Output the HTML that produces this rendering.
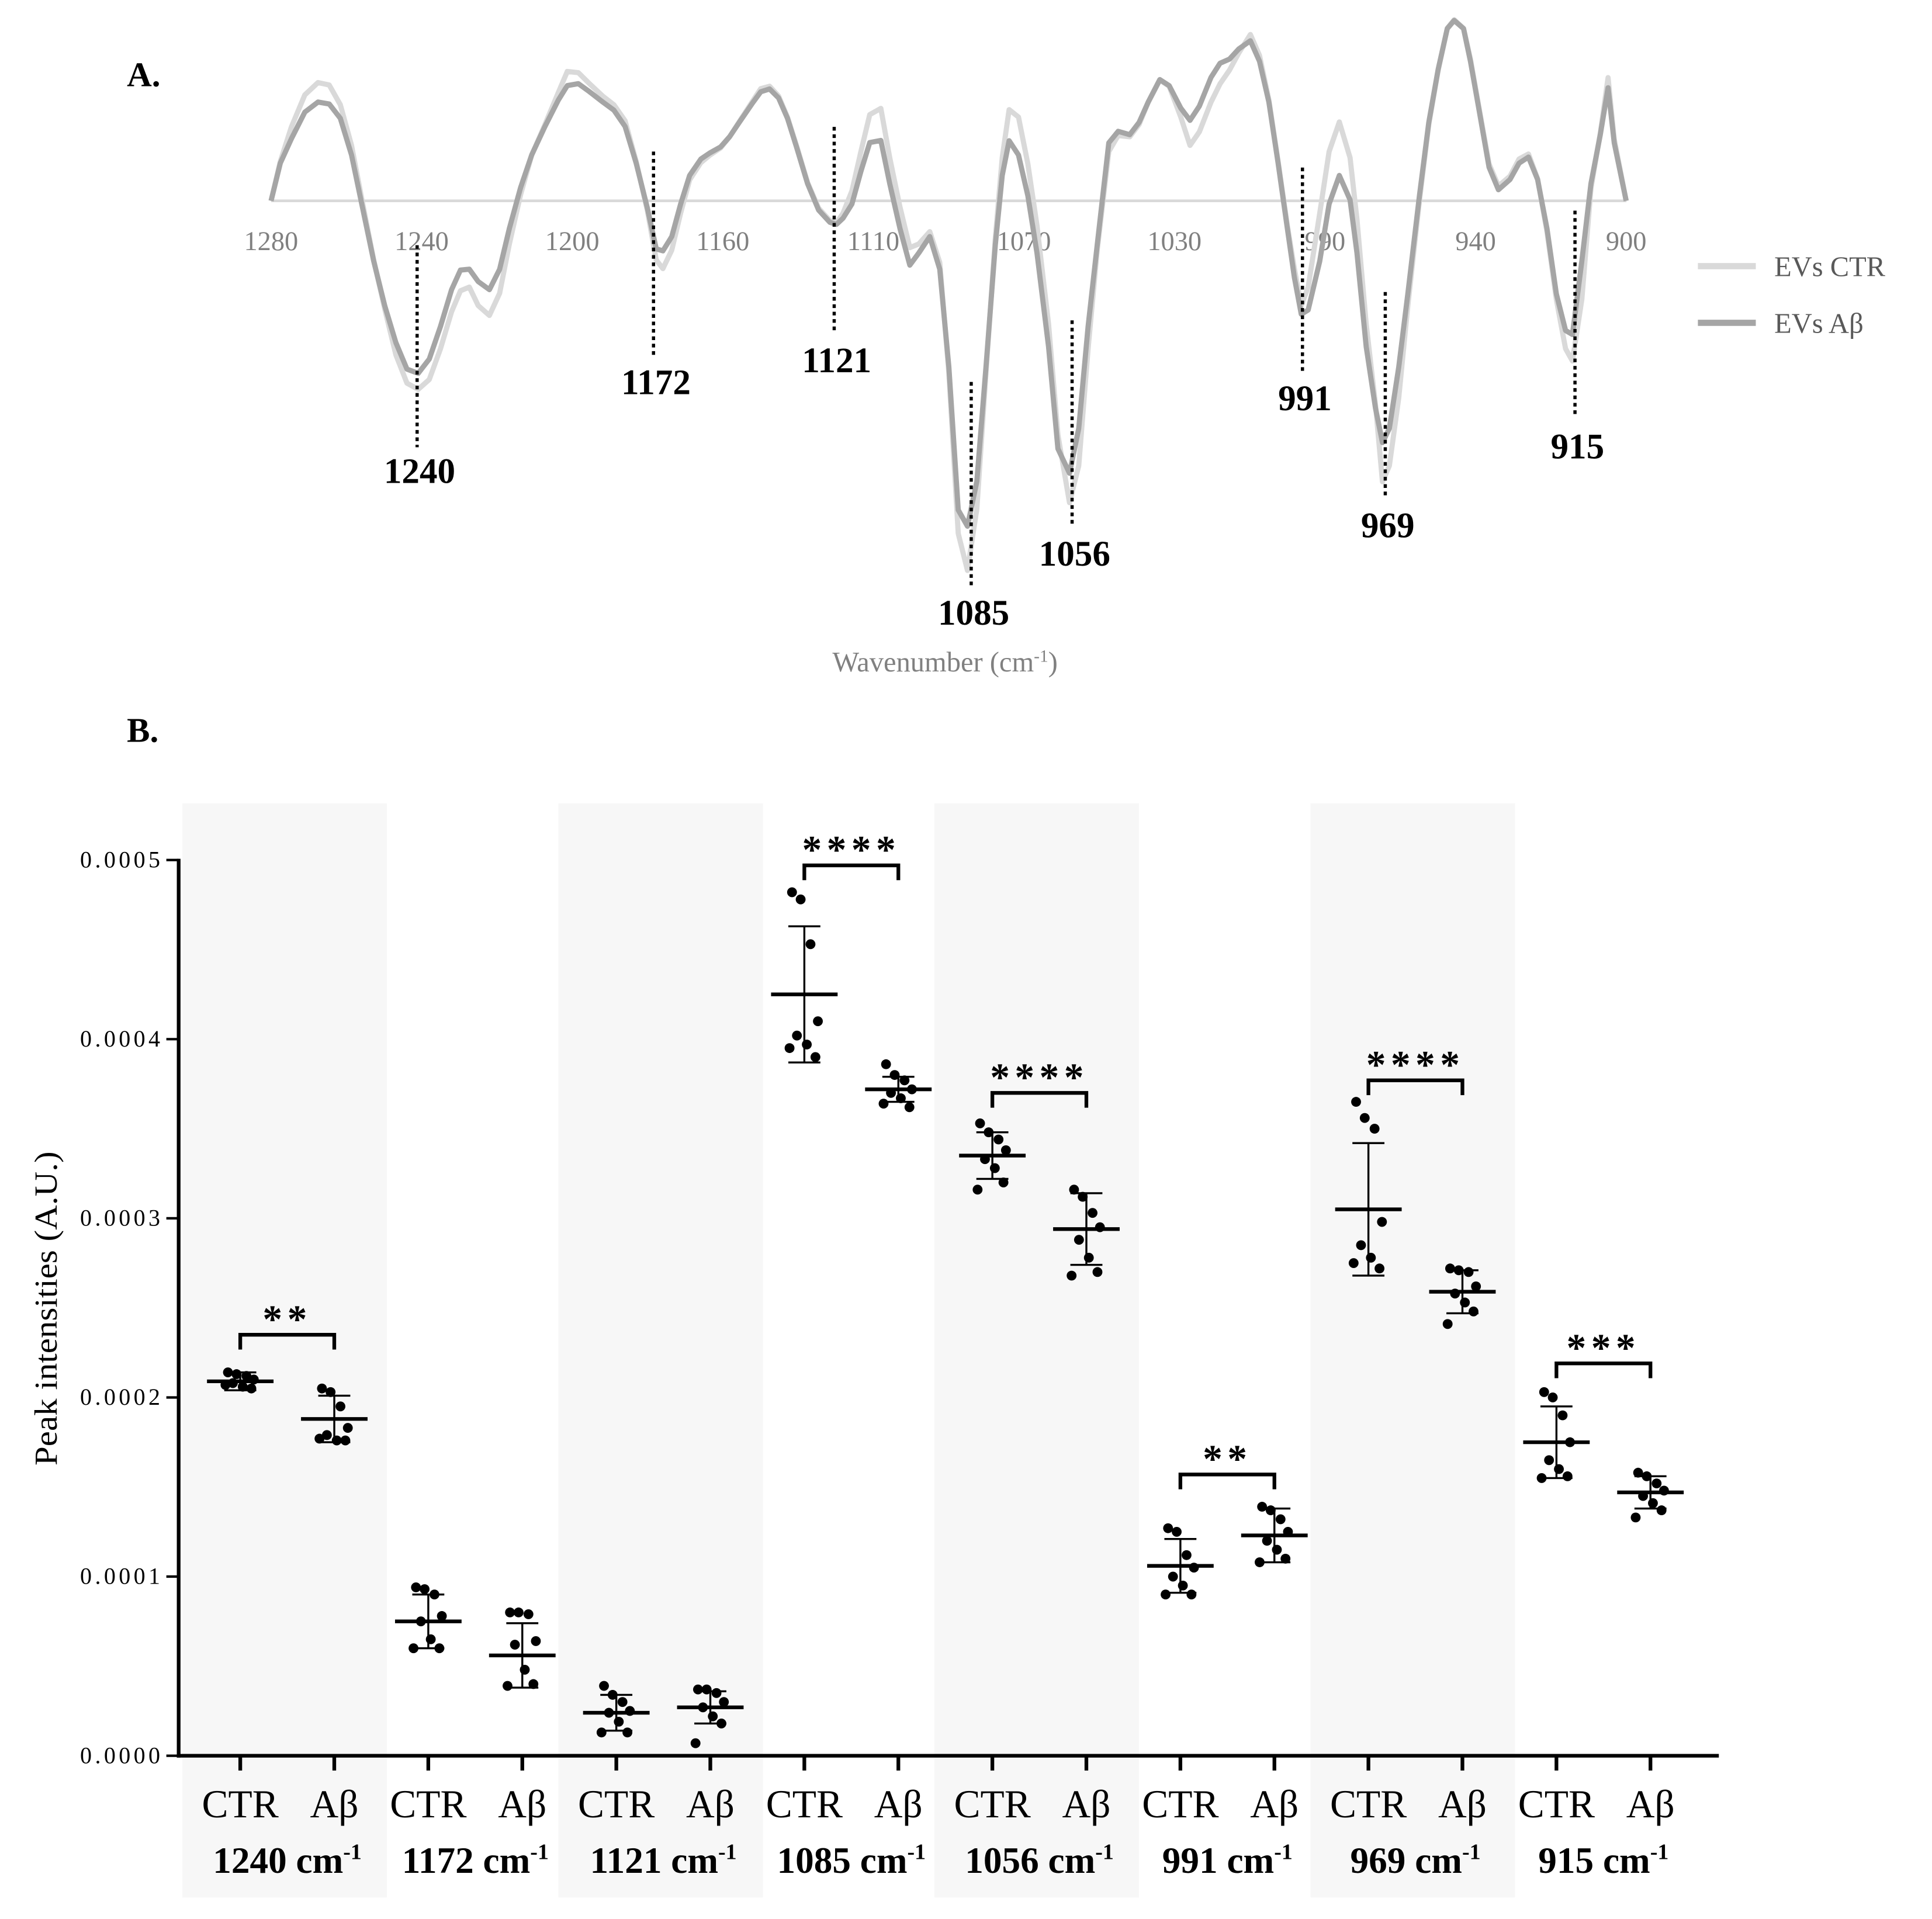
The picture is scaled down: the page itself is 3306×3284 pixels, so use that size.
<!DOCTYPE html>
<html><head><meta charset="utf-8"><style>
html,body{margin:0;padding:0;background:#fff}
svg{display:block}
text{font-family:"Liberation Serif",serif}
</style></head><body>
<svg id="fig" xmlns="http://www.w3.org/2000/svg" width="3306" height="3284" viewBox="0 0 1568 1557.5" preserveAspectRatio="none">
<rect x="0" y="0" width="1568" height="1558" fill="#fff"/>
<text x="103" y="70" font-size="28" font-weight="bold">A.</text>
<text x="103" y="602" font-size="28" font-weight="bold">B.</text>
<g id="pa"></g>
<g id="pb"></g>
</svg>
<script>
// ---------- Panel A data ----------
const specTickLabels = ["1280","1240","1200","1160","1110","1070","1030","990","940","900"];
const specIndex = [0,0.061,0.135,0.224,0.312,0.386,0.460,0.534,0.608,0.682,0.755,0.829,0.903,0.977,1.051,1.125,1.199,1.258,1.317,1.376,1.450,1.518,1.583,1.657,1.731,1.819,1.908,1.967,2.041,2.115,2.203,2.277,2.351,2.425,2.499,2.558,2.602,2.661,2.720,2.780,2.854,2.913,2.986,3.046,3.119,3.193,3.252,3.311,3.371,3.430,3.489,3.563,3.637,3.711,3.755,3.799,3.858,3.917,3.976,4.050,4.109,4.177,4.242,4.302,4.375,
4.441,4.502,4.564,4.625,4.687,4.748,4.810,4.856,4.902,4.964,5.026,5.087,5.164,5.226,5.303,5.364,5.426,5.487,5.564,5.626,5.703,5.765,5.826,5.903,5.965,6.042,6.103,6.165,6.242,6.303,6.365,6.427,6.504,6.565,6.627,6.688,6.750,6.796,6.842,6.888,6.965,7.027,7.095,7.166,7.212,7.273,7.335,7.381,7.427,7.489,7.550,7.627,7.689,7.751,7.812,7.858,7.920,7.966,8.028,8.089,8.151,8.228,8.289,8.351,8.412,8.474,8.536,8.597,8.643,8.705,8.766,8.828,8.880,8.921,9.0];
const specCTR = [0,32,60,86,96,94,78,45,-2,-48,-88,-125,-148,-153,-145,-120,-90,-73,-70,-85,-93,-75,-35,5,37,62,88,105,104,95,85,78,65,32,-8,-48,-55,-40,-10,17,31,37,43,52,66,80,91,93,85,68,45,15,-6,-16,-18,-10,8,40,70,75,35,-5,-38,-35,-25,
-50,-140,-270,-300,-250,-140,-30,35,74,68,30,-20,-100,-190,-245,-215,-120,-40,40,53,52,62,80,98,93,68,45,56,80,95,106,120,135,118,82,32,-20,-55,-85,-70,-10,40,64,35,-15,-100,-165,-228,-215,-160,-85,0,62,106,140,147,140,115,72,30,12,20,34,38,18,-25,-80,-120,-130,-80,10,55,100,50,0];
const specAB = [0,30.6,50.4,72.0,80.2,78.6,67.0,37.2,-5.9,-48.9,-85.3,-115.1,-136.6,-140.0,-128.4,-101.9,-72.1,-56.2,-55.5,-65.5,-72.1,-55.5,-22.4,10.7,37.2,60.4,81.9,93.5,95.1,88.5,80.2,73.6,60.4,30.6,-5.9,-39.0,-40.6,-29.0,-2.6,20.6,33.9,38.8,43.8,52.1,65.3,78.6,88.5,90.8,83.5,67.0,43.8,14.0,-7.5,-17.4,-19.1,-14.1,-2.6,23.9,47.3,49.0,14.0,-22.4,-52.2,-42.3,-29.0,
-55.5,-135.0,-250.9,-264.1,-227.7,-135.0,-35.7,20.6,48.8,37.2,4.1,-42.3,-118.4,-201.2,-221.1,-184.7,-101.9,-35.7,47.1,56.4,53.7,63.7,80.2,98.4,93.5,75.3,65.3,76.9,100.1,111.7,115.0,123.3,129.9,113.3,80.2,30.6,-22.4,-62.1,-92.0,-88.6,-48.9,-2.6,20.6,0.8,-42.3,-118.4,-168.1,-196.2,-184.7,-135.0,-75.4,4.1,63.7,106.7,139.8,146.4,139.8,113.3,70.3,27.3,9.0,17.3,30.6,35.5,17.3,-22.4,-75.4,-105.2,-108.5,-48.9,14.0,53.7,91.8,47.1,0];
const peakLabels = ["1240","1172","1121","1085","1056","991","969","915"];
const peakIndex = [0.97,2.54,3.74,4.65,5.32,6.85,7.40,8.66];
const peakLineTop = [-36,40,60,-147,-97,27,-74,-8];
const peakLineBottom = [-200,-128,-107,-314,-264,-140,-241,-176];
const peakLabelY = [-219,-147,-129,-334,-286,-160,-263,-199];

// ---------- Panel B data ----------
const groups = ["1240","1172","1121","1085","1056","991","969","915"];
const condLabels = ["CTR","Aβ"];
const yTicks = [0,1,2,3,4,5];
const yTickLabels = ["0.0000","0.0001","0.0002","0.0003","0.0004","0.0005"];
const meanCTR = [2.09,0.75,0.24,4.25,3.35,1.06,3.05,1.75];
const sdCTR = [0.05,0.15,0.10,0.38,0.13,0.15,0.37,0.20];
const meanAB = [1.88,0.56,0.27,3.72,2.94,1.23,2.59,1.47];
const sdAB = [0.13,0.18,0.09,0.07,0.20,0.15,0.12,0.09];
const ptsCTR = [[2.14,2.13,2.12,2.10,2.08,2.06,2.05,2.07],[0.94,0.93,0.9,0.78,0.75,0.65,0.6,0.6],[0.39,0.34,0.3,0.25,0.24,0.19,0.13,0.13],[4.82,4.78,4.53,4.1,4.02,3.97,3.9,3.95],[3.53,3.48,3.44,3.38,3.33,3.28,3.2,3.16],[1.27,1.25,1.12,1.05,1.0,0.95,0.9,0.9],[3.65,3.56,3.5,2.98,2.85,2.78,2.72,2.75],[2.03,2.0,1.9,1.75,1.65,1.6,1.56,1.55]];
const ptsAB = [[2.05,2.03,1.95,1.83,1.79,1.76,1.76,1.77],[0.8,0.8,0.79,0.64,0.62,0.48,0.4,0.39],[0.37,0.37,0.35,0.3,0.27,0.22,0.18,0.07],[3.86,3.8,3.77,3.72,3.7,3.67,3.62,3.64],[3.16,3.12,3.03,2.95,2.88,2.78,2.7,2.68],[1.39,1.37,1.32,1.25,1.2,1.15,1.1,1.08],[2.72,2.71,2.7,2.62,2.58,2.53,2.48,2.41],[1.58,1.56,1.52,1.48,1.45,1.41,1.37,1.33]];
const sigGroups = [0,3,4,5,6,7];
const sigLevel = [2.35,4.97,3.70,1.57,3.77,2.19];
const sigStars = ["**","****","****","**","****","***"];

const NS="http://www.w3.org/2000/svg";
function mk(parent,tag,attrs,txt){const e=document.createElementNS(NS,tag);for(const k in attrs)e.setAttribute(k,attrs[k]);if(txt!==undefined)e.textContent=txt;parent.appendChild(e);return e;}

// ---------- Panel A ----------
const pa=document.getElementById('pa');
const ax=u=>220+u*122.2, ay=v=>163-v;
const base=mk(pa,'line',{x1:220,y1:163,x2:1320,y2:163,stroke:'#d9d9d9','stroke-width':2.2});


specTickLabels.forEach((t,i)=>{
  const e=mk(pa,'text',{x:ax(i),y:203,'font-size':22,fill:'#808080','text-anchor':'middle'},t);
  
  
});
function path(vals){return vals.map((v,i)=>(i?'L':'M')+ax(specIndex[i]).toFixed(1)+','+ay(v).toFixed(1)).join('');}
const lc=mk(pa,'path',{d:path(specCTR),fill:'none',stroke:'#d9d9d9','stroke-width':4.2,'stroke-linejoin':'round'});


const la=mk(pa,'path',{d:path(specAB),fill:'none',stroke:'#a5a5a5','stroke-width':4.2,'stroke-linejoin':'round'});


peakLabels.forEach((t,i)=>{
  const x=ax(peakIndex[i]);
  const l=mk(pa,'line',{x1:x,y1:ay(peakLineTop[i]),x2:x,y2:ay(peakLineBottom[i]),stroke:'#000','stroke-width':2.6,'stroke-dasharray':'3,3'});
  
  
  const e=mk(pa,'text',{x:x+2,y:ay(peakLabelY[i])+10,'font-size':29,'font-weight':'bold','text-anchor':'middle'},t);
  
  
});
const lg1=mk(pa,'line',{x1:1378,y1:216,x2:1425,y2:216,stroke:'#d9d9d9','stroke-width':5});


const lt1=mk(pa,'text',{x:1440,y:224,'font-size':23,fill:'#595959'},'EVs CTR');


const lg2=mk(pa,'line',{x1:1378,y1:262,x2:1425,y2:262,stroke:'#a5a5a5','stroke-width':5});


const lt2=mk(pa,'text',{x:1440,y:270,'font-size':23,fill:'#595959'},'EVs Aβ');


const xt=mk(pa,'text',{x:767,y:545,'font-size':23,fill:'#808080','text-anchor':'middle'});


mk(xt,'tspan',{},'Wavenumber (cm');
mk(xt,'tspan',{'font-size':14,dy:-8},'-1');
mk(xt,'tspan',{dy:8},')');

// ---------- Panel B ----------
const pb=document.getElementById('pb');
const by=v=>1425-v*145.4;
const bx=i=>195+i*76.3;
groups.forEach((g,gi)=>{
  if(gi%2===0){
    const r=mk(pb,'rect',{x:bx(gi*2)-47,y:652,width:166,height:888,fill:'#f7f7f7'});
    
    
  }
});
const yl=mk(pb,'line',{x1:145,y1:697,x2:145,y2:1426.5,stroke:'#000','stroke-width':3});


const xl=mk(pb,'line',{x1:143.5,y1:1425,x2:1395,y2:1425,stroke:'#000','stroke-width':3});


yTicks.forEach((t,i)=>{
  const tk=mk(pb,'line',{x1:135,y1:by(t),x2:145,y2:by(t),stroke:'#000','stroke-width':2});
  
  
  const e=mk(pb,'text',{x:65,y:by(t)+6,'font-size':19,textLength:65,lengthAdjust:'spacing'},yTickLabels[i]);
  
  
});
const yt=mk(pb,'text',{x:0,y:0,'font-size':26,'text-anchor':'middle',textLength:255,lengthAdjust:'spacingAndGlyphs',transform:'translate(46,1062) rotate(-90)'},'Peak intensities (A.U.)');


const jitter=[-10,-3,5,11,-6,2,9,-12];
function drawGroup(ci,mean,sd,pts,name){
  const x=bx(ci);
  const tk=mk(pb,'line',{x1:x,y1:1425,x2:x,y2:1437,stroke:'#000','stroke-width':3});
  
  
  pts.forEach((p,k)=>{
    const c=mk(pb,'circle',{cx:x+jitter[k],cy:by(p),r:4,fill:'#000'});
    
    
  });
  const eb=mk(pb,'path',{d:`M${x},${by(mean-sd)}L${x},${by(mean+sd)}M${x-13},${by(mean+sd)}L${x+13},${by(mean+sd)}M${x-13},${by(mean-sd)}L${x+13},${by(mean-sd)}`,stroke:'#000','stroke-width':1.6,fill:'none'});
  
  
  const m=mk(pb,'line',{x1:x-27,y1:by(mean),x2:x+27,y2:by(mean),stroke:'#000','stroke-width':3});
  
  
  const t=mk(pb,'text',{x:x,y:1475,'font-size':32,'text-anchor':'middle'},condLabels[ci%2]);
  
  
}
groups.forEach((g,gi)=>{
  drawGroup(gi*2,meanCTR[gi],sdCTR[gi],ptsCTR[gi],'ctr-label');
  drawGroup(gi*2+1,meanAB[gi],sdAB[gi],ptsAB[gi],'abeta-label');
  const gl=mk(pb,'text',{x:(bx(gi*2)+bx(gi*2+1))/2,y:1520,'font-size':30,'font-weight':'bold','text-anchor':'middle'});
  
  
  mk(gl,'tspan',{},g+' cm');
  mk(gl,'tspan',{'font-size':18,dy:-11},'-1');
});
sigGroups.forEach((gi,k)=>{
  const x1=bx(gi*2),x2=bx(gi*2+1),y=by(sigLevel[k]);
  const b=mk(pb,'path',{d:`M${x1},${y+12}L${x1},${y}L${x2},${y}L${x2},${y+12}`,stroke:'#000','stroke-width':3,fill:'none'});
  
  
  const s=mk(pb,'text',{x:(x1+x2)/2,y:y-2,'font-size':32,'font-weight':'bold','text-anchor':'middle','letter-spacing':4},sigStars[k]);
  
  
});
</script>
</body></html>
